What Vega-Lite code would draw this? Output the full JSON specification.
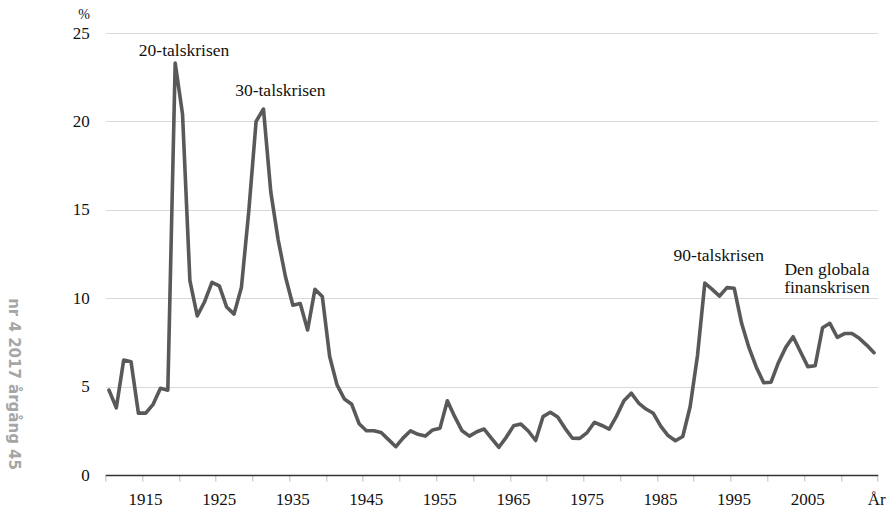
{
  "$schema": "https://vega.github.io/schema/vega-lite/v6.json",
  "width": 772.4,
  "height": 442,
  "autosize": {"type": "none"},
  "padding": {"left": 105.3, "top": 33, "right": 9.3, "bottom": 32},
  "background": "white",
  "title": {
    "text": "nr 4 2017 årgång 45",
    "orient": "left",
    "frame": "group",
    "angle": 90,
    "anchor": "start",
    "align": "right",
    "baseline": "top",
    "dx": -5,
    "font": "DejaVu Sans",
    "fontWeight": "bold",
    "fontSize": 15,
    "color": "#a6a6a6",
    "offset": 36
  },
  "config": {
    "view": {"stroke": null},
    "axis": {"labelFont": "Liberation Serif, DejaVu Serif, serif", "labelFontSize": 17, "labelColor": "#111111", "titleFont": "Liberation Serif, DejaVu Serif, serif", "titleColor": "#111111"}
  },
  "datasets": {
    "series": [
      {"year": 1911, "value": 4.8}, {"year": 1912, "value": 3.8}, {"year": 1913, "value": 6.5}, {"year": 1914, "value": 6.4},
      {"year": 1915, "value": 3.5}, {"year": 1916, "value": 3.5}, {"year": 1917, "value": 4.0}, {"year": 1918, "value": 4.9},
      {"year": 1919, "value": 4.8}, {"year": 1920, "value": 23.3}, {"year": 1921, "value": 20.4}, {"year": 1922, "value": 11.0},
      {"year": 1923, "value": 9.0}, {"year": 1924, "value": 9.8}, {"year": 1925, "value": 10.9}, {"year": 1926, "value": 10.7},
      {"year": 1927, "value": 9.5}, {"year": 1928, "value": 9.1}, {"year": 1929, "value": 10.6}, {"year": 1930, "value": 14.9},
      {"year": 1931, "value": 20.0}, {"year": 1932, "value": 20.7}, {"year": 1933, "value": 16.0}, {"year": 1934, "value": 13.3},
      {"year": 1935, "value": 11.2}, {"year": 1936, "value": 9.6}, {"year": 1937, "value": 9.7}, {"year": 1938, "value": 8.2},
      {"year": 1939, "value": 10.5}, {"year": 1940, "value": 10.1}, {"year": 1941, "value": 6.7}, {"year": 1942, "value": 5.1},
      {"year": 1943, "value": 4.3}, {"year": 1944, "value": 4.0}, {"year": 1945, "value": 2.9}, {"year": 1946, "value": 2.5},
      {"year": 1947, "value": 2.5}, {"year": 1948, "value": 2.4}, {"year": 1949, "value": 2.0}, {"year": 1950, "value": 1.6},
      {"year": 1951, "value": 2.1}, {"year": 1952, "value": 2.5}, {"year": 1953, "value": 2.3}, {"year": 1954, "value": 2.2},
      {"year": 1955, "value": 2.55}, {"year": 1956, "value": 2.65}, {"year": 1957, "value": 4.2}, {"year": 1958, "value": 3.3},
      {"year": 1959, "value": 2.5}, {"year": 1960, "value": 2.2}, {"year": 1961, "value": 2.45}, {"year": 1962, "value": 2.6},
      {"year": 1963, "value": 2.07}, {"year": 1964, "value": 1.57}, {"year": 1965, "value": 2.13}, {"year": 1966, "value": 2.78},
      {"year": 1967, "value": 2.88}, {"year": 1968, "value": 2.49}, {"year": 1969, "value": 1.95}, {"year": 1970, "value": 3.3},
      {"year": 1971, "value": 3.55}, {"year": 1972, "value": 3.28}, {"year": 1973, "value": 2.64}, {"year": 1974, "value": 2.08},
      {"year": 1975, "value": 2.07}, {"year": 1976, "value": 2.4}, {"year": 1977, "value": 2.98}, {"year": 1978, "value": 2.8},
      {"year": 1979, "value": 2.6}, {"year": 1980, "value": 3.33}, {"year": 1981, "value": 4.2}, {"year": 1982, "value": 4.63},
      {"year": 1983, "value": 4.07}, {"year": 1984, "value": 3.73}, {"year": 1985, "value": 3.49}, {"year": 1986, "value": 2.76},
      {"year": 1987, "value": 2.23}, {"year": 1988, "value": 1.94}, {"year": 1989, "value": 2.18}, {"year": 1990, "value": 3.86},
      {"year": 1991, "value": 6.75}, {"year": 1992, "value": 10.86}, {"year": 1993, "value": 10.5}, {"year": 1994, "value": 10.12},
      {"year": 1995, "value": 10.6}, {"year": 1996, "value": 10.56}, {"year": 1997, "value": 8.58}, {"year": 1998, "value": 7.2},
      {"year": 1999, "value": 6.1}, {"year": 2000, "value": 5.22}, {"year": 2001, "value": 5.25}, {"year": 2002, "value": 6.35},
      {"year": 2003, "value": 7.22}, {"year": 2004, "value": 7.82}, {"year": 2005, "value": 6.97}, {"year": 2006, "value": 6.13},
      {"year": 2007, "value": 6.18}, {"year": 2008, "value": 8.33}, {"year": 2009, "value": 8.58}, {"year": 2010, "value": 7.79},
      {"year": 2011, "value": 8.0}, {"year": 2012, "value": 8.0}, {"year": 2013, "value": 7.73}, {"year": 2014, "value": 7.35},
      {"year": 2015, "value": 6.92}
    ],
    "notes": [
      {"year": 1921.2, "value": 23.7, "label": "20-talskrisen"},
      {"year": 1934.3, "value": 21.45, "label": "30-talskrisen"},
      {"year": 1993.9, "value": 12.12, "label": "90-talskrisen"},
      {"year": 2008.6, "value": 11.31, "label": ["Den globala", "finanskrisen"]}
    ]
  },
  "encoding": {
    "x": {
      "field": "year",
      "type": "quantitative",
      "scale": {"domain": [1910.5, 2015.5], "nice": false, "zero": false},
      "axis": {
        "title": null,
        "values": [1910.5, 1915.5, 1920.5, 1925.5, 1930.5, 1935.5, 1940.5, 1945.5, 1950.5, 1955.5, 1960.5, 1965.5, 1970.5, 1975.5, 1980.5, 1985.5, 1990.5, 1995.5, 2000.5, 2005.5, 2010.5, 2015.5],
        "labelExpr": "datum.value > 2015 ? 'År' : ((datum.value - 1915.5) % 10 == 0 ? format(datum.value - 0.5, 'd') : '')",
        "grid": false,
        "domainColor": "#333333",
        "domainWidth": 1.5,
        "tickColor": "#bbbbbb",
        "tickSize": 6,
        "labelPadding": 10,
        "labelOffset": {"condition": {"test": "datum.value > 2015", "value": -1.5}, "value": 3},
        "labelFlush": false,
        "labelOverlap": false
      }
    },
    "y": {
      "field": "value",
      "type": "quantitative",
      "scale": {"domain": [0, 25], "nice": false},
      "axis": {
        "title": "%",
        "titleAngle": 0,
        "titleAlign": "right",
        "titleBaseline": "middle",
        "titleX": -16,
        "titleY": -19,
        "titleFontSize": 14,
        "titleFontWeight": "normal",
        "values": [0, 5, 10, 15, 20, 25],
        "domain": false,
        "ticks": false,
        "tickSize": 0,
        "gridColor": "#d9d9d9",
        "gridWidth": 1,
        "labelPadding": 16
      }
    }
  },
  "layer": [
    {
      "data": {"name": "series"},
      "mark": {"type": "line", "color": "#595959", "strokeWidth": 3.6, "strokeJoin": "round", "strokeCap": "round"}
    },
    {
      "data": {"name": "notes"},
      "mark": {"type": "text", "font": "Liberation Serif, DejaVu Serif, serif", "fontSize": 17.5, "align": "center", "baseline": "alphabetic", "lineHeight": 18.3, "color": "#111111"},
      "encoding": {
        "text": {"field": "label"}
      }
    }
  ]
}
